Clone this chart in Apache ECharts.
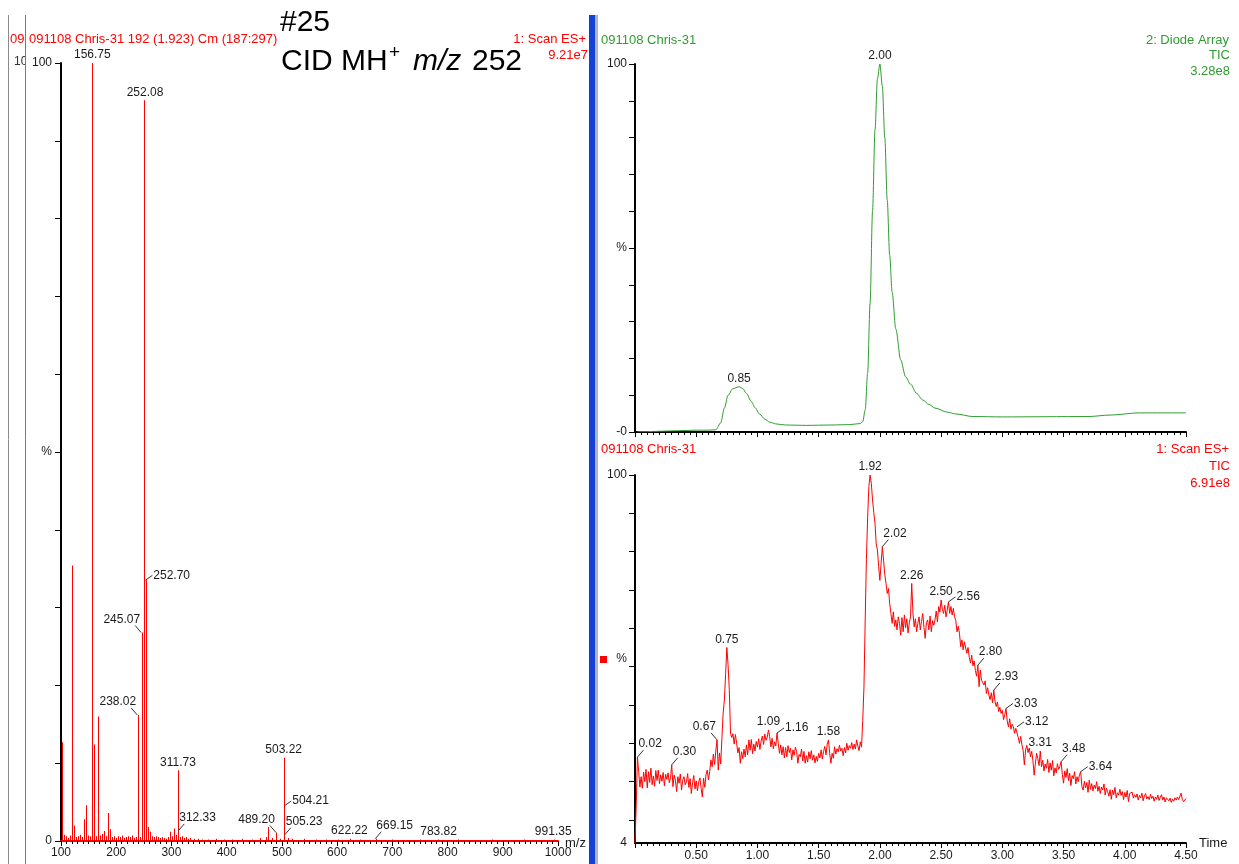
<!DOCTYPE html>
<html><head><meta charset="utf-8">
<script src="https://cdn.jsdelivr.net/npm/echarts@6/dist/echarts.min.js"></script>
<style>html,body{margin:0;padding:0;background:#fff}#c{width:1239px;height:864px}</style>
</head><body><div id="c"></div>
<script>
// ---------- DATA ----------
// Left: mass spectrum (m/z, relative %)
const msLabeledPeaks = [
  [156.75,100],[252.08,95.2],[252.70,33.5],[245.07,26.8],[238.02,16.2],[311.73,9.1],
  [312.33,1.3],[489.20,1.1],[503.22,10.7],[504.21,4.5],[505.23,0.8],[622.22,0.3],
  [669.15,0.3],[783.82,0.2],[991.35,0.2]
];
const msOtherPeaks = [
  [100.8,12.7],[102,1.7],[104,0.8],[107,0.5],[110,0.6],[113,0.4],[116,0.7],[118,0.5],
  [120.5,35.4],[122,2.0],[124,0.9],[127,0.5],[130,0.6],[133,0.4],[136,0.8],[139,0.5],
  [141,0.9],[143,2.8],[145,4.6],[146.5,2.0],[149,0.7],[151,0.5],[153,0.6],[158,12.4],
  [160,1.0],[163,0.6],[166.5,16.0],[168,2.0],[171,0.7],[174,0.5],[176,0.9],[179.5,1.3],
  [182,0.6],[186,3.6],[187.5,1.5],[190,0.7],[193,0.5],[196,0.6],[199,0.4],[202,0.6],
  [205,0.4],[208,0.5],[211,0.7],[214,0.4],[217,0.5],[220,0.6],[223,0.4],[226,0.5],
  [229,0.7],[232,0.4],[235,0.5],[240,0.6],[243,0.5],[247,0.9],[250,0.5],[254,1.0],
  [257,1.8],[260,1.2],[262,0.8],[265,0.6],[268,0.5],[271,0.6],[274,0.4],[277,0.5],
  [280,0.4],[283,0.5],[286,0.4],[289,0.3],[292,0.5],[295,0.4],[298,1.2],[301,0.6],
  [305,1.6],[309,0.8],[315,0.5],[318,0.6],[322,0.4],[326,0.5],[330,0.3],[334,0.4],
  [340,0.3],[348,0.3],[356,0.2],[368,0.2],[380,0.3],[395,0.2],[410,0.2],[428,0.3],
  [445,0.2],[460,0.4],[470,0.5],[476,1.8],[483,0.4],[495,0.3],[510,0.4],[520,0.3],
  [540,0.3],[560,0.2],[580,0.2],[600,0.2],[640,0.2],[700,0.2],[750,0.2],[820,0.2],
  [880,0.2],[940,0.2]
];
const msTickLabels = [100,200,300,400,500,600,700,800,900,1000];

// Right top: diode array TIC (time min, %)
const dadTic = [
  [0.02,0.1],[0.10,0.1],[0.20,0.2],[0.30,0.3],[0.40,0.4],[0.50,0.5],[0.60,0.5],[0.66,0.6],
  [0.70,2.5],[0.73,6.5],[0.76,10.0],[0.80,11.8],[0.85,12.3],[0.88,11.8],[0.91,10.5],
  [0.95,8.3],[0.98,6.6],[1.02,4.8],[1.06,3.5],[1.10,2.7],[1.15,2.2],[1.23,1.9],[1.40,1.8],
  [1.60,1.9],[1.75,2.0],[1.84,2.3],[1.86,2.8],[1.88,6],[1.90,16],[1.92,35],[1.94,60],
  [1.96,82],[1.98,96],[2.00,100],[2.02,94],[2.04,80],[2.06,63],[2.08,48],[2.10,38],
  [2.13,28],[2.17,19.6],[2.21,15],[2.25,13],[2.30,10.5],[2.35,8.7],[2.40,7.5],[2.45,6.5],
  [2.55,5.4],[2.62,4.9],[2.76,4.2],[3.00,4.1],[3.70,4.2],[3.88,4.6],[4.12,5.2],[4.50,5.2]
];
const dadPeakLabels = [0.85, 2.00];

// Right bottom: MS scan ES+ TIC (time min, %)
const msTic = [
[0.00,4],[0.01,14],[0.02,26.4],[0.03,22.6],[0.04,18.6],[0.05,21.3],[0.06,18.3],[0.07,22.5],[0.08,20.0],[0.09,23.2],
[0.10,18.4],[0.11,22.6],[0.12,19.8],[0.13,23.5],[0.14,19.2],[0.15,21.5],[0.16,18.8],[0.17,22.9],[0.18,20.3],[0.19,23.0],
[0.20,19.5],[0.21,21.8],[0.22,20.1],[0.23,22.4],[0.24,18.9],[0.25,21.9],[0.26,20.6],[0.27,22.3],[0.28,19.7],[0.29,21.0],
[0.30,24.4],[0.31,18.7],[0.32,21.7],[0.33,20.4],[0.34,17.4],[0.35,21.3],[0.36,19.6],[0.37,22.0],[0.38,17.8],[0.39,20.4],
[0.40,21.3],[0.41,19.2],[0.42,20.0],[0.43,22.1],[0.44,18.5],[0.45,20.8],[0.46,16.9],[0.47,19.7],[0.48,21.6],[0.49,18.1],
[0.50,20.2],[0.51,17.6],[0.52,19.9],[0.53,21.0],[0.54,18.3],[0.55,16.0],[0.56,20.9],[0.57,18.5],[0.58,21.8],[0.59,23.0],
[0.60,20.5],[0.61,22.6],[0.62,25.7],[0.63,23.9],[0.64,27.2],[0.65,24.5],[0.66,28.0],[0.67,30.9],[0.68,23.0],[0.69,27.5],
[0.70,24.6],[0.71,31.5],[0.72,37.9],[0.73,41.3],[0.74,48.0],[0.75,55.0],[0.76,50.5],[0.77,44.0],[0.78,32.7],[0.79,31.5],
[0.80,32.5],[0.81,29.8],[0.82,32.3],[0.83,30.0],[0.84,27.5],[0.85,28.9],[0.86,24.8],[0.87,27.8],[0.88,26.0],[0.89,28.5],
[0.90,26.5],[0.91,29.6],[0.92,27.0],[0.93,30.9],[0.94,28.2],[0.95,31.0],[0.96,27.3],[0.97,29.8],[0.98,28.0],[0.99,30.5],
[1.00,29.0],[1.01,31.2],[1.02,28.4],[1.03,30.6],[1.04,31.9],[1.05,29.7],[1.06,32.4],[1.07,30.8],[1.08,31.6],[1.09,33.5],
[1.10,31.7],[1.11,29.1],[1.12,31.3],[1.13,28.6],[1.14,30.4],[1.15,29.3],[1.16,32.7],[1.17,30.0],[1.18,27.4],[1.19,29.6],
[1.20,27.0],[1.21,29.1],[1.22,26.2],[1.23,28.9],[1.24,26.5],[1.25,29.4],[1.26,27.6],[1.27,28.7],[1.28,25.7],[1.29,28.3],
[1.30,26.9],[1.31,29.0],[1.32,27.8],[1.33,24.8],[1.34,27.1],[1.35,26.5],[1.36,28.5],[1.37,25.4],[1.38,27.9],[1.39,24.8],
[1.40,26.8],[1.41,25.1],[1.42,27.8],[1.43,26.0],[1.44,28.1],[1.45,25.6],[1.46,27.0],[1.47,24.9],[1.48,26.6],[1.49,25.3],
[1.50,27.4],[1.51,26.2],[1.52,28.3],[1.53,25.9],[1.54,27.9],[1.55,29.2],[1.56,27.0],[1.57,29.8],[1.58,30.9],[1.59,27.4],
[1.60,24.8],[1.61,27.4],[1.62,26.1],[1.63,29.1],[1.64,27.2],[1.65,28.6],[1.66,27.8],[1.67,29.5],[1.68,28.0],[1.69,28.7],
[1.70,26.8],[1.71,28.9],[1.72,27.5],[1.73,30.0],[1.74,28.2],[1.75,29.4],[1.76,28.7],[1.77,30.2],[1.78,28.4],[1.79,29.8],
[1.80,28.5],[1.81,30.9],[1.82,29.3],[1.83,28.1],[1.84,30.4],[1.85,29.0],[1.86,36.0],[1.87,44.8],[1.88,62.2],[1.89,78.0],
[1.90,89.0],[1.91,97.0],[1.92,100],[1.93,97.8],[1.94,93.5],[1.95,90.2],[1.96,87.4],[1.97,82.0],[1.98,80.4],[1.99,76.1],
[2.00,72.5],[2.01,77.0],[2.02,81.3],[2.03,77.8],[2.04,74.0],[2.05,71.7],[2.06,69.1],[2.07,70.4],[2.08,66.5],[2.09,63.9],
[2.10,61.3],[2.11,64.3],[2.12,60.5],[2.13,62.2],[2.14,59.6],[2.15,63.0],[2.16,61.3],[2.17,58.2],[2.18,62.8],[2.19,59.1],
[2.20,63.5],[2.21,60.2],[2.22,62.5],[2.23,58.8],[2.24,61.4],[2.25,63.0],[2.26,71.7],[2.27,64.0],[2.28,60.4],[2.29,62.5],
[2.30,59.1],[2.31,61.3],[2.32,63.0],[2.33,59.6],[2.34,61.8],[2.35,63.9],[2.36,60.2],[2.37,57.4],[2.38,61.5],[2.39,62.2],
[2.40,59.6],[2.41,63.2],[2.42,59.1],[2.43,62.0],[2.44,60.8],[2.45,62.2],[2.46,64.5],[2.47,61.7],[2.48,65.7],[2.49,64.2],
[2.50,67.4],[2.51,65.0],[2.52,63.9],[2.53,66.0],[2.54,63.0],[2.55,64.8],[2.56,66.9],[2.57,63.9],[2.58,65.7],[2.59,63.5],
[2.60,65.2],[2.61,63.0],[2.62,62.0],[2.63,59.1],[2.64,60.5],[2.65,58.7],[2.66,55.2],[2.67,57.0],[2.68,54.4],[2.69,56.5],
[2.70,57.0],[2.71,53.5],[2.72,55.0],[2.73,52.4],[2.74,51.0],[2.75,53.0],[2.76,50.2],[2.77,51.5],[2.78,49.0],[2.79,47.5],
[2.80,50.4],[2.81,44.8],[2.82,49.1],[2.83,46.5],[2.84,47.0],[2.85,45.2],[2.86,46.3],[2.87,43.0],[2.88,44.5],[2.89,42.6],
[2.90,41.4],[2.91,43.2],[2.92,40.6],[2.93,43.9],[2.94,41.0],[2.95,39.6],[2.96,40.8],[2.97,38.3],[2.98,39.4],[2.99,37.8],
[3.00,38.6],[3.01,36.2],[3.02,37.5],[3.03,39.1],[3.04,35.8],[3.05,34.3],[3.06,36.4],[3.07,33.7],[3.08,35.0],[3.09,34.3],
[3.10,32.6],[3.11,33.9],[3.12,34.3],[3.13,31.5],[3.14,30.0],[3.15,31.8],[3.16,29.6],[3.17,28.1],[3.18,24.4],[3.19,28.3],
[3.20,29.5],[3.21,27.6],[3.22,28.8],[3.23,26.5],[3.24,27.9],[3.25,25.4],[3.26,21.7],[3.27,24.8],[3.28,27.4],[3.29,26.0],
[3.30,24.2],[3.31,28.0],[3.32,23.9],[3.33,25.6],[3.34,22.8],[3.35,24.6],[3.36,23.5],[3.37,25.8],[3.38,22.4],[3.39,24.9],
[3.40,23.0],[3.41,25.5],[3.42,21.5],[3.43,23.6],[3.44,22.3],[3.45,24.7],[3.46,23.2],[3.47,24.0],[3.48,25.2],[3.49,21.9],
[3.50,19.6],[3.51,22.8],[3.52,21.1],[3.53,23.4],[3.54,20.3],[3.55,22.2],[3.56,19.0],[3.57,21.6],[3.58,20.8],[3.59,22.6],
[3.60,19.4],[3.61,21.3],[3.62,20.0],[3.63,21.8],[3.64,22.6],[3.65,18.7],[3.66,17.8],[3.67,20.1],[3.68,18.4],[3.69,19.8],
[3.70,17.2],[3.71,20.4],[3.72,18.0],[3.73,19.5],[3.74,17.6],[3.75,19.1],[3.76,18.2],[3.77,20.0],[3.78,17.5],[3.79,18.8],
[3.80,16.9],[3.81,18.6],[3.82,17.8],[3.83,19.4],[3.84,16.5],[3.85,18.3],[3.86,17.4],[3.87,16.2],[3.88,17.9],[3.89,15.4],
[3.90,17.8],[3.91,16.6],[3.92,18.5],[3.93,15.8],[3.94,17.1],[3.95,16.5],[3.96,18.0],[3.97,16.4],[3.98,17.4],[3.99,15.3],
[4.00,17.2],[4.01,16.0],[4.02,17.7],[4.03,14.8],[4.04,16.9],[4.05,16.5],[4.06,17.3],[4.07,15.7],[4.08,16.6],[4.09,15.9],
[4.10,16.8],[4.11,15.2],[4.12,16.4],[4.13,15.8],[4.14,17.0],[4.15,15.0],[4.16,16.3],[4.17,16.9],[4.18,15.5],[4.19,16.1],
[4.20,15.3],[4.21,16.7],[4.22,15.6],[4.23,16.2],[4.24,14.9],[4.25,16.0],[4.26,15.4],[4.27,16.5],[4.28,15.1],[4.29,15.9],
[4.30,16.6],[4.31,15.2],[4.32,16.0],[4.33,14.7],[4.34,15.8],[4.35,16.3],[4.36,15.0],[4.37,15.7],[4.38,14.6],[4.39,15.5],
[4.40,14.9],[4.41,15.8],[4.42,15.2],[4.43,16.0],[4.44,15.3],[4.45,15.6],[4.46,17.0],[4.47,15.4],[4.48,14.8],[4.49,15.2],
[4.50,15.6]
];
const msTicPeakLabels = [0.02,0.30,0.67,0.75,1.09,1.16,1.58,1.92,2.02,2.26,2.50,2.56,2.80,2.93,3.03,3.12,3.31,3.48,3.64];
const timeTickLabels = [0.5,1.0,1.5,2.0,2.5,3.0,3.5,4.0,4.5];

// ---------- STYLE ----------
const FONT = '"Liberation Sans", Arial, sans-serif';
const RED = '#ff0000', GREEN = '#2f9c2f', INK = '#1a1a1a';
// leader-line placement of peak labels (c = centred above)
const labelSide = {
  '252.70':'r','245.07':'l','238.02':'l','312.33':'u','489.20':'l','504.21':'r','505.23':'u','669.15':'u',
  '0.02':'u','0.30':'u','0.67':'l','1.16':'r','2.02':'u','2.56':'r','2.80':'u','2.93':'u','3.03':'r','3.12':'r','3.48':'u','3.64':'r'
};

function lookup(arr, t){ const f = arr.find(d => Math.abs(d[0]-t) < 1e-6); return f ? f[1] : 0; }

function leader(x1,y1,x2,y2){ return {type:'line', shape:{x1,y1,x2,y2}, style:{stroke:'#333', fill:null, lineWidth:1}}; }
function txt(x,y,text,align,va){ return {type:'text', style:{x,y,text,align,verticalAlign:va,fontSize:12,fontFamily:FONT,fill:INK}}; }

function makeLabelRender(items){
  return function(params, api){
    const it = items[params.dataIndex];
    const text = it[2];
    const p = api.coord([it[0], it[1]]);
    const side = labelSide[text] || 'c';
    const ch = [];
    if (side === 'c') ch.push(txt(p[0], p[1]-2, text, 'center', 'bottom'));
    else if (side === 'r') { ch.push(leader(p[0], p[1], p[0]+7, p[1]-5)); ch.push(txt(p[0]+8, p[1]-5, text, 'left', 'middle')); }
    else if (side === 'u') { ch.push(leader(p[0], p[1], p[0]+6, p[1]-7)); ch.push(txt(p[0]+1, p[1]-7, text, 'left', 'bottom')); }
    else { ch.push(leader(p[0], p[1], p[0]-6, p[1]-7)); ch.push(txt(p[0]-1, p[1]-7, text, 'right', 'bottom')); }
    return {type:'group', children: ch};
  };
}
// sticks snapped to even pixel columns so thin red lines keep their colour in the snapshot
function stickRender(params, api){
  const a = api.coord([api.value(0), 0]), b = api.coord([api.value(0), api.value(1)]);
  const x = 2 * Math.round(a[0] / 2);
  return {type:'rect', shape:{x:x, y:b[1], width:1, height:a[1]-b[1]}, style:{fill:RED, stroke:null}};
}

const allSticks = msOtherPeaks.concat(msLabeledPeaks);
const msLabelData = msLabeledPeaks.map(d => [d[0], d[1], d[0].toFixed(2)]);
const dadLabelData = dadPeakLabels.map(t => [t, lookup(dadTic, t), t.toFixed(2)]);
const ticLabelData = msTicPeakLabels.map(t => [t, lookup(msTic, t), t.toFixed(2)]);

const axLabel = {color:INK, fontSize:12, fontFamily:FONT};
function pctAxis(gi, zeroText, margin){
  return {
    type:'value', gridIndex:gi, min:0, max:100, interval:10,
    axisLine:{show:true, onZero:false, lineStyle:{color:'#000', width:2}},
    axisTick:{show:true, length:6, lineStyle:{color:'#000'}},
    splitLine:{show:false},
    axisLabel:Object.assign({margin:margin, customValues:[0,50,100],
      formatter:v => v===100?'100':(v===50?'%':(v===0?zeroText:''))}, axLabel)
  };
}
function timeAxis(gi, showLabels){
  return {
    type:'value', gridIndex:gi, min:0, max:4.5, interval:0.5,
    axisLine:{show:true, onZero:false, lineStyle:{color:'#000', width:2}},
    axisTick:{show:true, length:5, lineStyle:{color:'#000'}},
    minorTick:{show:true, splitNumber:10, length:3, lineStyle:{color:'#000'}},
    splitLine:{show:false}, minorSplitLine:{show:false},
    axisLabel:Object.assign({show:showLabels, margin:7, customValues:timeTickLabels,
      formatter:v => v===0 ? '' : v.toFixed(2)}, axLabel),
    name: showLabels ? 'Time' : '', nameLocation:'end', nameGap:13,
    nameTextStyle:{color:INK, fontSize:13, fontFamily:FONT, verticalAlign:'middle'}
  };
}

const option = {
  animation:false,
  backgroundColor:'#ffffff',
  grid:[
    {left:61, top:63, width:497, height:778},
    {left:635, top:64, width:551, height:368},
    {left:635, top:475, width:551, height:368}
  ],
  xAxis:[
    {type:'value', gridIndex:0, min:100, max:1000, interval:100,
      axisLine:{show:true, onZero:false, lineStyle:{color:RED, width:2}},
      axisTick:{show:true, length:5, lineStyle:{color:'#000'}},
      minorTick:{show:true, splitNumber:10, length:3, lineStyle:{color:'#000'}},
      splitLine:{show:false}, minorSplitLine:{show:false},
      axisLabel:Object.assign({margin:6, customValues:msTickLabels, formatter:v => String(v)}, axLabel)},
    timeAxis(1, false),
    timeAxis(2, true)
  ],
  yAxis:[
    pctAxis(0, '0', 9),
    pctAxis(1, '-0', 8),
    {type:'value', gridIndex:2, min:4, max:100,
      axisLine:{show:true, onZero:false, lineStyle:{color:'#000', width:2}},
      axisTick:{show:true, length:6, customValues:[10,20,30,40,50,60,70,80,90,100], lineStyle:{color:'#000'}},
      splitLine:{show:false},
      axisLabel:Object.assign({margin:8, customValues:[4,52,100],
        formatter:v => v===100?'100':(v===52?'%':(v===4?'4':''))}, axLabel)}
  ],
  series:[
    {type:'custom', name:'ms', xAxisIndex:0, yAxisIndex:0, data:allSticks, renderItem:stickRender, encode:{x:0,y:1}, silent:true, z:3},
    {type:'custom', name:'msLabels', xAxisIndex:0, yAxisIndex:0, data:msLabelData.map(d=>[d[0],d[1]]), renderItem:makeLabelRender(msLabelData), encode:{x:0,y:1}, silent:true, z:5},
    {type:'line', name:'dad', xAxisIndex:1, yAxisIndex:1, data:dadTic, showSymbol:false, smooth:0.3, smoothMonotone:'x',
      lineStyle:{color:GREEN, width:1}, silent:true},
    {type:'custom', name:'dadLabels', xAxisIndex:1, yAxisIndex:1, data:dadLabelData.map(d=>[d[0],d[1]]), renderItem:makeLabelRender(dadLabelData), encode:{x:0,y:1}, silent:true, z:5},
    {type:'line', name:'tic', xAxisIndex:2, yAxisIndex:2, data:msTic, showSymbol:false,
      lineStyle:{color:RED, width:1}, silent:true},
    {type:'custom', name:'ticLabels', xAxisIndex:2, yAxisIndex:2, data:ticLabelData.map(d=>[d[0],d[1]]), renderItem:makeLabelRender(ticLabelData), encode:{x:0,y:1}, silent:true, z:5}
  ],
  graphic:[
    // window edge remnants on the far left
    {type:'text', x:14, y:62, style:{text:'10', fontSize:12, fontFamily:FONT, fill:'#333', verticalAlign:'middle'}, z:1},
    {type:'rect', shape:{x:25.5, y:54, width:7, height:16}, style:{fill:'#fff'}, z:2},
    {type:'line', shape:{x1:8.5, y1:15, x2:8.5, y2:864}, style:{stroke:'#8a8a8a', lineWidth:1}, z:3},
    {type:'line', shape:{x1:25.5, y1:15, x2:25.5, y2:864}, style:{stroke:'#7a7a7a', lineWidth:1}, z:3},
    {type:'text', x:10, y:39, style:{text:'09', fontSize:13, fontFamily:FONT, fill:RED, verticalAlign:'middle'}, z:1},
    {type:'rect', shape:{x:25.5, y:30, width:3, height:18}, style:{fill:'#fff'}, z:2},
    // left header
    {type:'text', x:29, y:39, style:{text:'091108 Chris-31 192 (1.923) Cm (187:297)', fontSize:13, fontFamily:FONT, fill:RED, verticalAlign:'middle'}},
    {type:'text', x:586, y:39, style:{text:'1: Scan ES+', fontSize:13, fontFamily:FONT, fill:RED, align:'right', verticalAlign:'middle'}},
    {type:'text', x:588, y:55, style:{text:'9.21e7', fontSize:13, fontFamily:FONT, fill:RED, align:'right', verticalAlign:'middle'}},
    {type:'text', x:565, y:843, style:{text:'m/z', fontSize:13, fontFamily:FONT, fill:INK, verticalAlign:'middle'}},
    // annotation
    {type:'text', x:280, y:23, style:{text:'#25', fontSize:30, fontFamily:FONT, fill:'#000', verticalAlign:'middle'}},
    {type:'text', x:281, y:62, style:{text:'CID MH', fontSize:30, fontFamily:FONT, fill:'#000', verticalAlign:'middle'}},
    {type:'text', x:389, y:53, style:{text:'+', fontSize:19, fontFamily:FONT, fill:'#000', verticalAlign:'middle'}},
    {type:'text', x:413, y:62, style:{text:'m/z', fontSize:30, fontStyle:'italic', fontFamily:FONT, fill:'#000', verticalAlign:'middle'}},
    {type:'text', x:472, y:62, style:{text:'252', fontSize:30, fontFamily:FONT, fill:'#000', verticalAlign:'middle'}},
    // splitter
    {type:'rect', shape:{x:589, y:15, width:6, height:849}, style:{fill:'#1442d6'}},
    {type:'rect', shape:{x:595, y:15, width:3, height:849}, style:{fill:'#b4b4b4'}},
    // right top header
    {type:'text', x:601, y:40, style:{text:'091108 Chris-31', fontSize:13, fontFamily:FONT, fill:GREEN, verticalAlign:'middle'}},
    {type:'text', x:1229, y:40, style:{text:'2: Diode Array', fontSize:13, fontFamily:FONT, fill:GREEN, align:'right', verticalAlign:'middle'}},
    {type:'text', x:1230, y:55, style:{text:'TIC', fontSize:13, fontFamily:FONT, fill:GREEN, align:'right', verticalAlign:'middle'}},
    {type:'text', x:1230, y:71, style:{text:'3.28e8', fontSize:13, fontFamily:FONT, fill:GREEN, align:'right', verticalAlign:'middle'}},
    // right bottom header
    {type:'text', x:601, y:449, style:{text:'091108 Chris-31', fontSize:13, fontFamily:FONT, fill:RED, verticalAlign:'middle'}},
    {type:'text', x:1229, y:449, style:{text:'1: Scan ES+', fontSize:13, fontFamily:FONT, fill:RED, align:'right', verticalAlign:'middle'}},
    {type:'text', x:1230, y:466, style:{text:'TIC', fontSize:13, fontFamily:FONT, fill:RED, align:'right', verticalAlign:'middle'}},
    {type:'text', x:1230, y:483, style:{text:'6.91e8', fontSize:13, fontFamily:FONT, fill:RED, align:'right', verticalAlign:'middle'}},
    {type:'rect', shape:{x:600, y:656, width:7, height:7}, style:{fill:RED}}
  ]
};
const chart = echarts.init(document.getElementById('c'));
chart.setOption(option);
</script>
</body></html>
